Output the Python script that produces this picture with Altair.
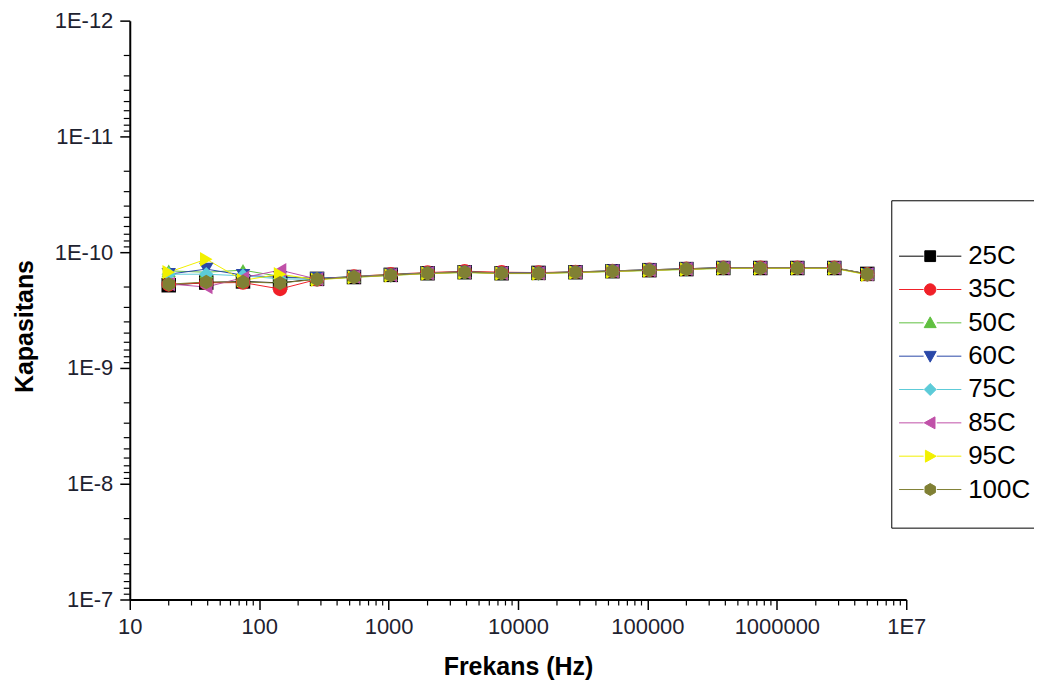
import altair as alt
import pandas as pd

# ---- data (capacitance in units of 1E-10 F) ----
freqs = [20, 39, 75, 145, 280, 540, 1040, 2000, 3870, 7470, 14400, 27800,
         53700, 103600, 200000, 386000, 745000, 1440000, 2780000, 5000000]
series = ["25C", "35C", "50C", "60C", "75C", "85C", "95C", "100C"]
c25 = [1.93, 1.83, 1.79, 1.84, 1.70, 1.64, 1.57, 1.52, 1.49, 1.52, 1.51, 1.49, 1.46, 1.43, 1.40, 1.37, 1.37, 1.37, 1.37, 1.54]
c35 = [1.90, 1.84, 1.83, 2.08, 1.72, 1.62, 1.55, 1.50, 1.46, 1.49, 1.50, 1.48, 1.45, 1.42, 1.39, 1.36, 1.36, 1.36, 1.36, 1.55]
c50 = [1.45, 1.49, 1.43, 1.62, 1.69, 1.62, 1.56, 1.51, 1.48, 1.51, 1.51, 1.48, 1.45, 1.42, 1.39, 1.36, 1.36, 1.36, 1.36, 1.54]
c60 = [1.55, 1.40, 1.58, 1.65, 1.68, 1.63, 1.57, 1.51, 1.48, 1.51, 1.51, 1.48, 1.45, 1.42, 1.39, 1.36, 1.37, 1.37, 1.37, 1.55]
c75 = [1.55, 1.55, 1.60, 1.70, 1.72, 1.65, 1.59, 1.53, 1.50, 1.53, 1.53, 1.50, 1.47, 1.44, 1.41, 1.38, 1.38, 1.38, 1.38, 1.56]
c85 = [1.88, 2.00, 1.66, 1.43, 1.71, 1.63, 1.58, 1.52, 1.49, 1.52, 1.52, 1.49, 1.46, 1.43, 1.40, 1.37, 1.37, 1.37, 1.37, 1.55]
c95 = [1.49, 1.15, 1.75, 1.55, 1.73, 1.65, 1.59, 1.53, 1.50, 1.53, 1.53, 1.50, 1.47, 1.44, 1.41, 1.38, 1.38, 1.38, 1.38, 1.57]
c100 = [1.89, 1.81, 1.81, 1.85, 1.71, 1.64, 1.58, 1.52, 1.49, 1.52, 1.52, 1.49, 1.46, 1.43, 1.40, 1.37, 1.37, 1.37, 1.37, 1.55]
all_vals = [c25, c35, c50, c60, c75, c85, c95, c100]

colors = ["#000000", "#f02028", "#60c040", "#2a48a8", "#5ccbd8", "#c050a8", "#f2f000", "#808034"]

x_major = [10, 100, 1000, 10000, 100000, 1000000, 10000000]
y_major = [1e-12, 1e-11, 1e-10, 1e-9, 1e-8, 1e-7]
x_minor = [m * 10 ** e for e in range(1, 7) for m in range(2, 10)]
y_minor = [m * 10.0 ** e for e in range(-12, -7) for m in range(2, 10)]

rows = []
for s, vals in zip(series, all_vals):
    for f, v in zip(freqs, vals):
        rows.append({"series": s, "freq": f, "cap": v * 1e-10})
df = pd.DataFrame(rows)

FONT = "Liberation Sans"
HEX = "M0,-1L0.87,-0.5L0.87,0.5L0,1L-0.87,0.5L-0.87,-0.5Z"
plot_shapes = ["square", "circle", "triangle-up", "triangle-down", "diamond",
               "triangle-left", "triangle-right", HEX]
LN = "M-5.2,0H-1.1M1.1,0H5.2"
legend_shapes = [
    LN + "M-0.9,-0.9H0.9V0.9H-0.9Z",
    LN + "M0.95,0A0.95,0.95 0 1,1 -0.95,0A0.95,0.95 0 1,1 0.95,0Z",
    LN + "M0,-1L1,0.8L-1,0.8Z",
    LN + "M0,1L1,-0.8L-1,-0.8Z",
    LN + "M0,-1L1,0L0,1L-1,0Z",
    LN + "M-1,0L0.8,-1L0.8,1Z",
    LN + "M1,0L-0.8,-1L-0.8,1Z",
    LN + HEX,
]

xscale = alt.Scale(type="log", domain=[10, 1e7], nice=False)
yscale = alt.Scale(type="log", domain=[1e-12, 1e-7], reverse=True, nice=False)

LABEL_COLOR = "#1e2230"
xaxis = alt.Axis(values=x_major, labelExpr="datum.value >= 1e7 ? '1E7' : format(datum.value, 'd')",
                 title="Frekans (Hz)", grid=False, tickSize=10, tickWidth=1.5, tickColor="black",
                 domainColor="black", domainWidth=2, labelFont=FONT, labelFontSize=22,
                 labelColor=LABEL_COLOR, labelPadding=7, titleFont=FONT, titleFontSize=25,
                 titleFontWeight="bold", titleColor="black", titleY=67, titleBaseline="middle",
                 labelFlush=False)
yaxis = alt.Axis(values=y_major, labelExpr="'1E' + round(log(datum.value) / LN10)",
                 title="Kapasitans", grid=False, tickSize=10, tickWidth=1.5, tickColor="black",
                 domainColor="black", domainWidth=2, labelFont=FONT, labelFontSize=22,
                 labelColor=LABEL_COLOR, labelPadding=7, titleFont=FONT, titleFontSize=25,
                 titleFontWeight="bold", titleColor="black", titleX=-105, titleY=306,
                 titleBaseline="middle", labelFlush=False)

color_scale = alt.Scale(domain=series, range=colors)

base = alt.Chart(df)

lines = base.mark_line(strokeWidth=1).encode(
    x=alt.X("freq:Q", scale=xscale, axis=xaxis),
    y=alt.Y("cap:Q", scale=yscale, axis=yaxis),
    color=alt.Color("series:N", scale=color_scale, legend=None),
    order=alt.Order("freq:Q"),
)

points = base.mark_point(filled=True, size=210, opacity=1).encode(
    x=alt.X("freq:Q", scale=xscale, axis=xaxis),
    y=alt.Y("cap:Q", scale=yscale, axis=yaxis),
    color=alt.Color("series:N", scale=color_scale, legend=None),
    shape=alt.Shape("series:N", scale=alt.Scale(domain=series, range=plot_shapes), legend=None),
)

leg = alt.Legend(orient="none", legendX=763, legendY=180, title=" ", titleFontSize=12,
                 titlePadding=6, strokeColor="black",
                 fillColor="white", padding=25, labelFont=FONT,
                 labelFontSize=26, labelColor="black", symbolSize=144, symbolStrokeWidth=1,
                 symbolOffset=1, rowPadding=7.4, labelOffset=25, symbolOpacity=1)

legend_layer = base.mark_point(filled=True, clip=True, strokeWidth=1).transform_calculate(
    hidden="1e-14"
).encode(
    x=alt.X("freq:Q", scale=xscale, axis=xaxis),
    y=alt.Y("hidden:Q", scale=yscale, axis=yaxis),
    color=alt.Color("series:N", scale=color_scale, legend=leg),
    stroke=alt.Stroke("series:N", scale=color_scale, legend=leg),
    shape=alt.Shape("series:N", scale=alt.Scale(domain=series, range=legend_shapes), legend=leg),
)

xminor = alt.Chart(pd.DataFrame({"v": x_minor})).mark_rule(color="black", strokeWidth=1.2).encode(
    x=alt.X("v:Q", scale=xscale, axis=xaxis),
    y=alt.value(580), y2=alt.value(586),
)
yminor = alt.Chart(pd.DataFrame({"v": y_minor})).mark_rule(color="black", strokeWidth=1.2).encode(
    y=alt.Y("v:Q", scale=yscale, axis=yaxis),
    x=alt.value(0), x2=alt.value(-6),
)

chart = alt.layer(lines, points, legend_layer, xminor, yminor).resolve_scale(
    color="independent", shape="independent", stroke="independent"
).properties(
    width=778, height=580,
    autosize=alt.AutoSizeParams(type="none"),
    padding={"left": 122, "top": 12, "right": 128, "bottom": 82},
).configure_view(stroke=None)

chart.save("out.html", embed_options={"renderer": "svg", "actions": False})
